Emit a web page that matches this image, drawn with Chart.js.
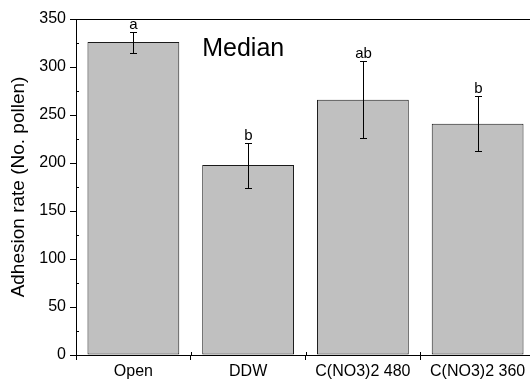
<!DOCTYPE html>
<html>
<head>
<meta charset="utf-8">
<script src="https://cdn.jsdelivr.net/npm/chart.js@4"></script>
<style>
  html, body { margin: 0; padding: 0; background: #fff; overflow: hidden; }
  #clip { width: 530px; height: 383px; overflow: hidden; }
  /* plot runs a few px past the right edge, like the original */
  #wrap { width: 535px; height: 383px; position: relative; }
</style>
</head>
<body>
<div id="clip"><div id="wrap"><canvas id="adhesionChart"></canvas></div></div>
<script>
// data
const treatments = ["Open", "DDW", "C(NO3)2 480", "C(NO3)2 360"];
const medians = [326, 198, 266, 241];
const errLow = [315, 174, 226, 213];
const errHigh = [336, 221, 306, 270];
const letters = ["a", "b", "ab", "b"];
const yTicks = [0, 50, 100, 150, 200, 250, 300, 350];

const FONT = "'Liberation Sans', Arial, sans-serif";

// error bars, letters, minor ticks, top frame and the "Median" note
const extras = {
  id: "extras",
  afterDatasetsDraw(chart) {
    const c = chart.ctx;
    const x = chart.scales.x;
    const y = chart.scales.y;
    const area = chart.chartArea;
    c.save();
    c.strokeStyle = "#000";
    c.lineWidth = 1;

    // error bars
    for (let i = 0; i < medians.length; i++) {
      const cx = Math.round(x.getPixelForValue(i)) + 0.5;
      const top = Math.round(y.getPixelForValue(errHigh[i])) + 0.5;
      const bot = Math.round(y.getPixelForValue(errLow[i])) + 0.5;
      c.beginPath();
      c.moveTo(cx, top);
      c.lineTo(cx, bot);
      c.moveTo(cx - 3.5, top);
      c.lineTo(cx + 3.5, top);
      c.moveTo(cx - 3.5, bot);
      c.lineTo(cx + 3.5, bot);
      c.stroke();

      c.fillStyle = "#000";
      c.font = "15px " + FONT;
      c.textAlign = "center";
      c.textBaseline = "alphabetic";
      c.fillText(letters[i], cx, top - 4);
    }

    // minor ticks on y (inside)
    c.beginPath();
    for (let v = 25; v < 350; v += 50) {
      const py = Math.round(y.getPixelForValue(v)) + 0.5;
      c.moveTo(area.left, py);
      c.lineTo(area.left + 3, py);
    }
    // minor ticks on x between categories (inside)
    for (let i = 0; i < treatments.length - 1; i++) {
      const px = Math.round((x.getPixelForValue(i) + x.getPixelForValue(i + 1)) / 2) + 0.5;
      c.moveTo(px, area.bottom);
      c.lineTo(px, area.bottom - 3);
    }
    // top frame
    const ty = Math.round(area.top) + 0.5;
    c.moveTo(area.left, ty);
    c.lineTo(area.right, ty);
    c.stroke();

    // note
    c.fillStyle = "#000";
    c.font = "25px " + FONT;
    c.textAlign = "left";
    c.textBaseline = "alphabetic";
    c.fillText("Median", x.getPixelForValue(0.6), y.getPixelForValue(311));
    c.restore();
  },
};

new Chart(document.getElementById("adhesionChart"), {
  type: "bar",
  data: {
    labels: treatments,
    datasets: [
      {
        label: "Median",
        data: medians,
        backgroundColor: "#c0c0c0",
        borderColor: "#1a1a1a",
        borderWidth: 1,
        borderSkipped: false,
        barPercentage: 0.8,
        categoryPercentage: 1,
      },
    ],
  },
  options: {
    responsive: true,
    maintainAspectRatio: false,
    animation: false,
    layout: { padding: { top: 19, right: 0, left: 0, bottom: 0 } },
    plugins: {
      legend: { display: false },
      tooltip: { enabled: false },
    },
    scales: {
      x: {
        grid: {
          drawOnChartArea: false,
          drawTicks: true,
          tickLength: 5,
          color: "#000",
        },
        border: { display: true, color: "#000", width: 1 },
        ticks: {
          color: "#000",
          font: { family: FONT, size: 16 },
          padding: 2,
          maxRotation: 0,
          autoSkip: false,
        },
        afterFit(scale) {
          scale.height = 28;
        },
      },
      y: {
        min: 0,
        max: 350,
        afterBuildTicks(scale) {
          scale.ticks = yTicks.map((v) => ({ value: v }));
        },
        grid: {
          drawOnChartArea: false,
          drawTicks: true,
          tickLength: 6,
          color: "#000",
        },
        border: { display: true, color: "#000", width: 1 },
        ticks: {
          color: "#000",
          font: { family: FONT, size: 16 },
          padding: 4,
        },
        title: {
          display: true,
          text: "Adhesion rate (No. pollen)",
          color: "#000",
          font: { family: FONT, size: 19 },
          padding: { top: 7, bottom: 2 },
        },
        afterFit(scale) {
          scale.width = 76;
        },
      },
    },
  },
  plugins: [extras],
});
</script>
</body>
</html>
